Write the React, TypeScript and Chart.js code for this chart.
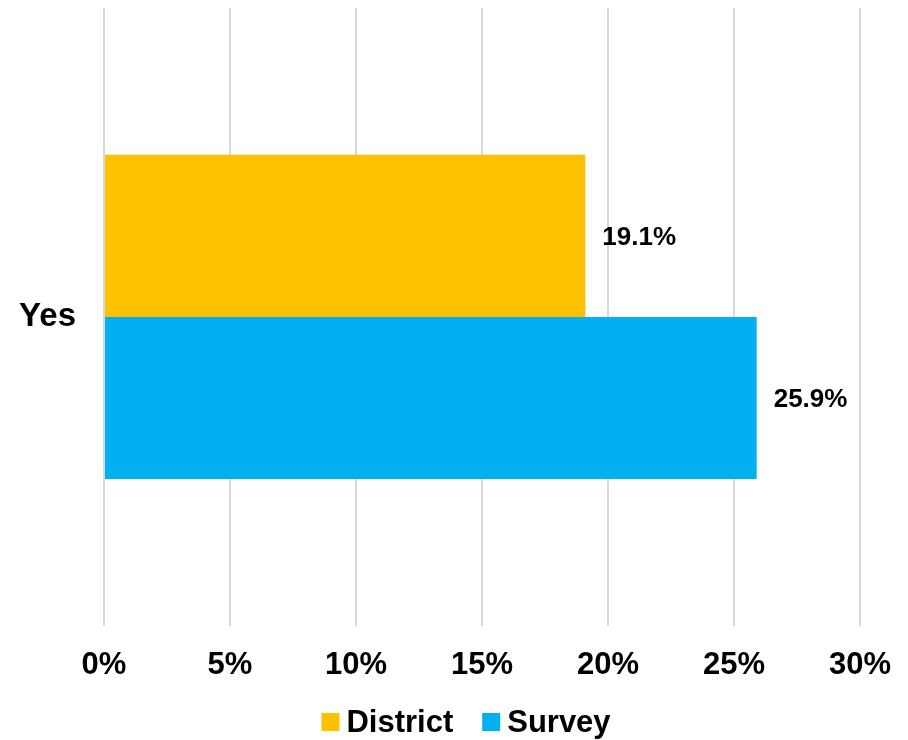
import React, { useEffect, useRef } from "react";
import { Chart, registerables } from "chart.js";

Chart.register(...registerables);

const categories = ["Yes"];
const districtValues = [19.1];
const surveyValues = [25.9];
const xTicks = [0, 5, 10, 15, 20, 25, 30];

const FONT = "'Liberation Sans', Arial, sans-serif";

const dataLabelPlugin = {
  id: "dataLabels",
  afterDatasetsDraw(chart: any) {
    const ctx = chart.ctx;
    ctx.save();
    ctx.font = `bold 26px ${FONT}`;
    ctx.fillStyle = "#000";
    ctx.textAlign = "left";
    ctx.textBaseline = "middle";
    chart.data.datasets.forEach((ds: any, i: number) => {
      const meta = chart.getDatasetMeta(i);
      meta.data.forEach((el: any, j: number) => {
        ctx.fillText(ds.data[j].toFixed(1) + "%", el.x + 17, el.y + 2);
      });
    });
    ctx.restore();
  },
};

const legendPlugin = {
  id: "customLegend",
  afterDraw(chart: any) {
    const ctx = chart.ctx;
    ctx.save();
    ctx.font = `bold 31px ${FONT}`;
    ctx.textBaseline = "middle";
    ctx.textAlign = "left";
    const box = 18;
    const gapBoxText = 7;
    const gapItems = 29;
    const items = chart.data.datasets.map((ds: any) => ({
      label: ds.label,
      color: ds.backgroundColor,
      w: box + gapBoxText + ctx.measureText(ds.label).width,
    }));
    const total = items.reduce((a: number, it: any) => a + it.w, 0) + gapItems * (items.length - 1);
    let x = (chart.width - total) / 2 + 12;
    const cy = 722;
    items.forEach((it: any) => {
      ctx.fillStyle = it.color;
      ctx.fillRect(x, cy - box / 2, box, box);
      ctx.fillStyle = "#000";
      ctx.fillText(it.label, x + box + gapBoxText, cy + 1);
      x += it.w + gapItems;
    });
    ctx.restore();
  },
};

export default function App() {
  const ref = useRef<HTMLCanvasElement>(null);
  useEffect(() => {
    document.body.style.margin = "0";
    const chart = new Chart(ref.current!, {
      type: "bar",
      data: {
        labels: categories,
        datasets: [
          { label: "District", data: districtValues, backgroundColor: "#FFC000" },
          { label: "Survey", data: surveyValues, backgroundColor: "#00B0F0" },
        ],
      },
      options: {
        indexAxis: "y",
        animation: false,
        responsive: false,
        maintainAspectRatio: false,
        layout: { padding: { top: 8, right: 48, left: 0, bottom: 35 } },
        datasets: { bar: { barPercentage: 1, categoryPercentage: 0.525 } } as any,
        scales: {
          x: {
            min: 0,
            max: 30,
            afterBuildTicks: (s: any) => {
              s.ticks = xTicks.map((v) => ({ value: v }));
            },
            afterFit: (s: any) => {
              s.paddingLeft = 0;
              s.paddingRight = 0;
            },
            ticks: {
              color: "#000",
              padding: 21,
              font: { family: FONT, size: 31, weight: "bold" },
              callback: (v: any) => v + "%",
              maxRotation: 0,
            },
            grid: { color: "#d9d9d9", lineWidth: 2, drawTicks: false },
            border: { display: false },
          },
          y: {
            afterFit: (s: any) => {
              s.width = 104;
              s.paddingTop = 0;
              s.paddingBottom = 0;
            },
            ticks: {
              color: "#000",
              padding: 28,
              font: { family: FONT, size: 33, weight: "bold" },
            },
            grid: { display: false, drawTicks: false },
            border: { display: false },
          },
        },
        plugins: {
          legend: { display: false },
          tooltip: { enabled: false },
        },
      },
      plugins: [dataLabelPlugin, legendPlugin],
    });
    return () => chart.destroy();
  }, []);
  return (
    <div style={{ width: 908, height: 740 }}>
      <canvas ref={ref} width={908} height={740} style={{ width: 908, height: 740, display: "block" }} />
    </div>
  );
}
